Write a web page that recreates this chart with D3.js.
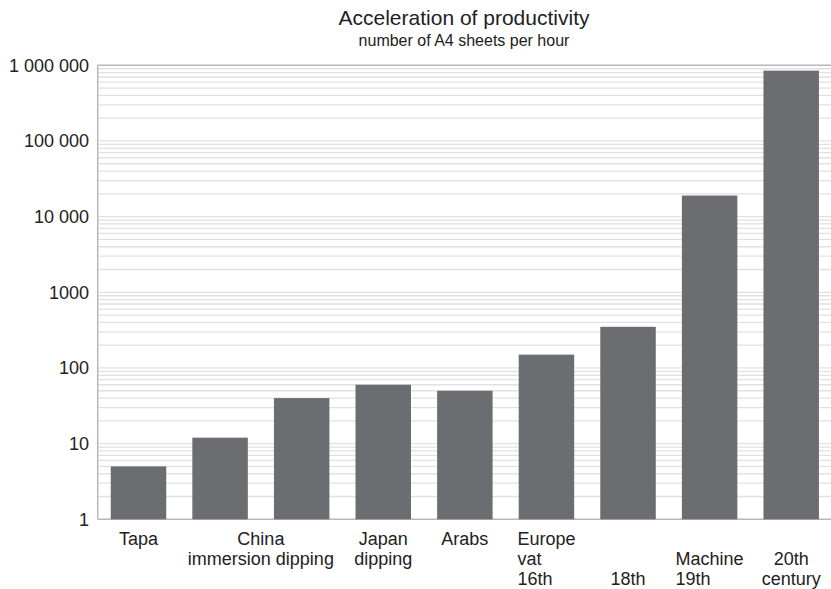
<!DOCTYPE html>
<html>
<head>
<meta charset="utf-8">
<script src="https://cdn.jsdelivr.net/npm/d3@7"></script>
<style>
  html, body { margin: 0; padding: 0; background: #fff; }
  svg { display: block; font-family: "Liberation Sans", Arial, Helvetica, sans-serif; }
</style>
</head>
<body>
<svg id="chart" width="831" height="589"></svg>
<script>
// Sheets of paper produced per hour, by technique and period
const barKeys = ["Tapa", "China A", "China B", "Japan", "Arabs", "Europe", "18th", "Machine", "20th"];
const sheetsPerHour = [5, 12, 40, 60, 50, 150, 350, 19000, 850000];

// Category captions: each caption's lines and the bars it sits under
const captionLines = [
  ["Tapa"],
  ["China", "immersion dipping"],
  ["Japan", "dipping"],
  ["Arabs"],
  ["Europe", "vat", "16th"],
  ["", "", "18th"],
  ["", "Machine", "19th"],
  ["", "20th", "century"]
];
const captionBars = [
  ["Tapa"],
  ["China A", "China B"],
  ["Japan"],
  ["Arabs"],
  ["Europe"],
  ["18th"],
  ["Machine"],
  ["20th"]
];

// Value axis
const tickValues = [1, 10, 100, 1000, 10000, 100000, 1000000];
const tickLabels = ["1", "10", "100", "1000", "10 000", "100 000", "1 000 000"];

const titleText = "Acceleration of productivity";
const subtitleText = "number of A4 sheets per hour";

// Captions whose lines share a left edge rather than each being centred
const leftAlignedCaptions = ["Europe", "Machine"];

const svg = d3.select("#chart");
const plotLeft = 97.7, plotRight = 832, plotTop = 65.3, plotBottom = 519.3;

const x = d3.scaleBand().domain(barKeys).range([plotLeft, plotRight])
  .paddingInner(0.32).paddingOuter(0.16);
const y = d3.scaleLog().domain([1, 1000000]).range([plotBottom, plotTop]);

const textColor = "#222";
const frameColor = "#b8b8b8";
const gridColor = "#e1e1e1";
const barColor = "#6c6d71";

// Titles
svg.append("text").attr("x", 464).attr("y", 25)
  .attr("text-anchor", "middle").attr("font-size", 21).attr("fill", textColor)
  .text(titleText);
svg.append("text").attr("x", 464).attr("y", 45.5)
  .attr("text-anchor", "middle").attr("font-size", 16).attr("fill", textColor)
  .text(subtitleText);

// Minor and major gridlines (one per 1..9 step of every decade)
svg.append("g").selectAll("line")
  .data(y.ticks().filter(v => v > 1 && v < 1000000))
  .join("line")
  .attr("x1", plotLeft).attr("x2", plotRight)
  .attr("y1", d => y(d)).attr("y2", d => y(d))
  .attr("stroke", gridColor).attr("stroke-width", 1.3);

// Frame: top, left and baseline
svg.append("line").attr("x1", plotLeft).attr("x2", plotRight).attr("y1", plotTop).attr("y2", plotTop)
  .attr("stroke", frameColor).attr("stroke-width", 1.5);
svg.append("line").attr("x1", plotLeft).attr("x2", plotRight).attr("y1", plotBottom).attr("y2", plotBottom)
  .attr("stroke", frameColor).attr("stroke-width", 1.5);
svg.append("line").attr("x1", plotLeft).attr("x2", plotLeft).attr("y1", plotTop).attr("y2", plotBottom)
  .attr("stroke", frameColor).attr("stroke-width", 1.5);

// Bars
svg.append("g").selectAll("rect")
  .data(barKeys.map((k, i) => ({ key: k, value: sheetsPerHour[i] })))
  .join("rect")
  .attr("x", d => x(d.key))
  .attr("width", x.bandwidth())
  .attr("y", d => y(d.value))
  .attr("height", d => y(1) - y(d.value))
  .attr("fill", barColor);

// Value axis labels
const yAxis = d3.axisLeft(y)
  .tickValues(tickValues)
  .tickFormat((d, i) => tickLabels[i])
  .tickSize(0)
  .tickPadding(8.7);
const gy = svg.append("g").attr("transform", `translate(${plotLeft},0)`).call(yAxis);
gy.select(".domain").remove();
gy.selectAll("text").attr("font-size", 18).attr("fill", textColor)
  .attr("font-family", "'Liberation Sans', Arial, Helvetica, sans-serif");

// Category captions
const baseline0 = 544.5, lineStep = 20.3;
const captions = svg.append("g").attr("font-size", 18).attr("fill", textColor);
captionLines.forEach((lines, i) => {
  const bars = captionBars[i];
  const x0 = x(bars[0]);
  const x1 = x(bars[bars.length - 1]) + x.bandwidth();
  const cx = (x0 + x1) / 2;
  const t = captions.append("text");
  const spans = lines.map((line, j) => ({ line, j })).filter(s => s.line !== "");
  spans.forEach(s => {
    t.append("tspan").attr("y", baseline0 + s.j * lineStep).text(s.line);
  });
  if (leftAlignedCaptions.includes(bars[0])) {
    // centre the widest line, align the rest to its left edge
    let maxW = 0;
    t.selectAll("tspan").each(function () { maxW = Math.max(maxW, this.getComputedTextLength()); });
    t.selectAll("tspan").attr("x", cx - maxW / 2).attr("text-anchor", "start");
  } else {
    t.selectAll("tspan").attr("x", cx).attr("text-anchor", "middle");
  }
});
</script>
</body>
</html>
